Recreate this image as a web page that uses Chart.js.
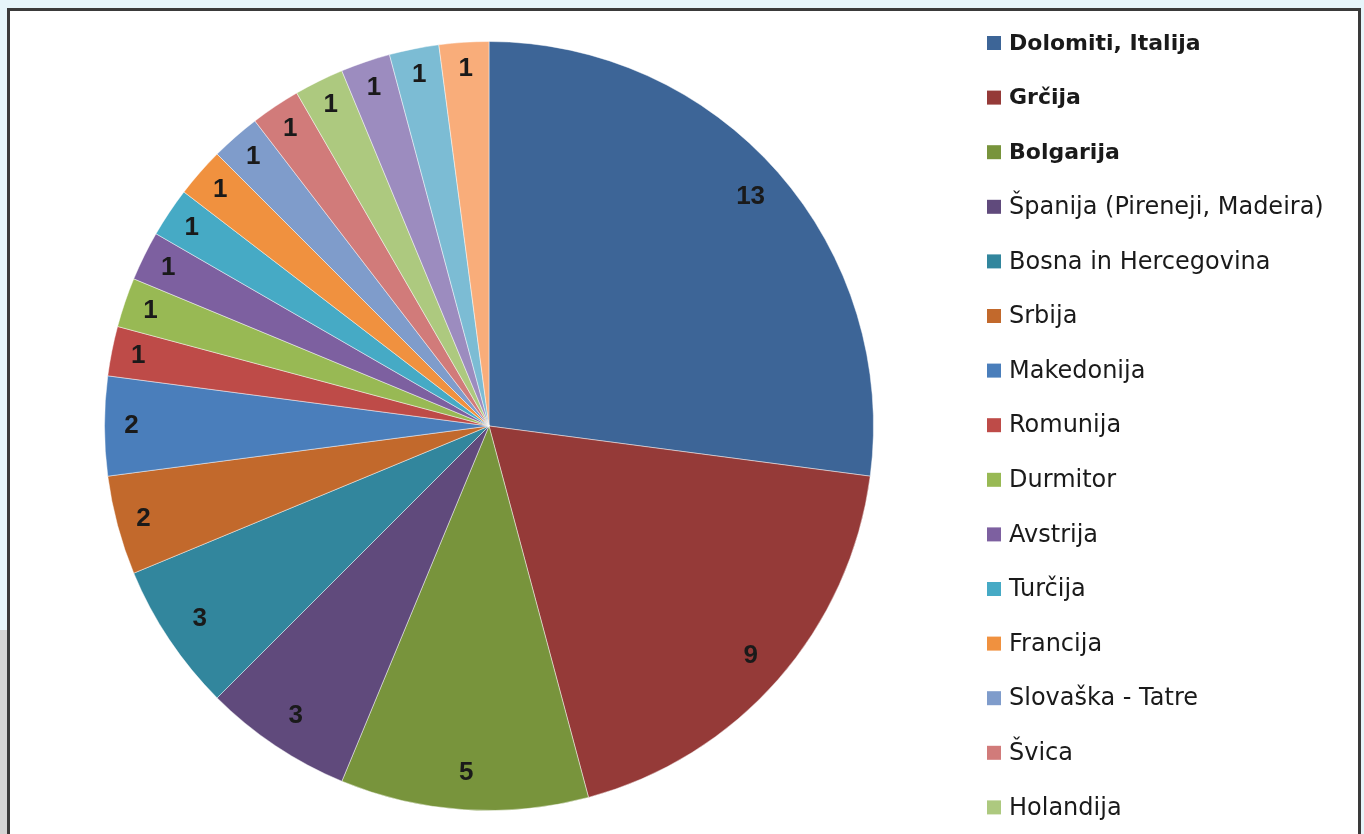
<!doctype html>
<html>
<head>
<meta charset="utf-8">
<script src="https://cdn.jsdelivr.net/npm/chart.js"></script>
<style>
html, body {
	margin: 0;
	padding: 0;
	overflow: hidden;
	background: #e6f5fa;
}
.frame {
	position: absolute;
	left: 7px;
	top: 8px;
	width: 1354px;
	height: 900px;
	background: #ffffff;
	border: 3px solid #3a3a3a;
	box-sizing: border-box;
}
.shade {
	position: absolute;
	left: 0;
	top: 630px;
	width: 7px;
	height: 210px;
	background: #d4d4d4;
}
#wrap {
	position: absolute;
	left: 10px;
	top: 11px;
	width: 1348px;
	height: 823px;
}
</style>
</head>
<body>
<div class="shade"></div>
<div class="frame"></div>
<div id="wrap"><canvas id="myChart"></canvas></div>
<script>
	// trips per destination (last three legend rows are cut off in the picture)
	var destinations = [
		'Dolomiti, Italija', 'Grčija', 'Bolgarija', 'Španija (Pireneji, Madeira)',
		'Bosna in Hercegovina', 'Srbija', 'Makedonija', 'Romunija', 'Durmitor',
		'Avstrija', 'Turčija', 'Francija', 'Slovaška - Tatre', 'Švica', 'Holandija',
		'Drugo 1', 'Drugo 2', 'Drugo 3'
	];
	var trips = [13, 9, 5, 3, 3, 2, 2, 1, 1, 1, 1, 1, 1, 1, 1, 1, 1, 1];
	var sliceColors = [
		'#3d6597', '#953a38', '#78943c', '#604a7c', '#32869d', '#c2692c',
		'#4a7ebb', '#be4b48', '#98b954', '#7d60a0', '#46aac5', '#f0913f',
		'#7f9ccb', '#d17b7a', '#adc97f', '#9c8cbf', '#7cbcd4', '#f9ad7a'
	];
	var boldRows = 3;

	var valueLabels = {
		id: 'valueLabels',
		afterDatasetsDraw: function(chart) {
			var c = chart.ctx;
			var arcs = chart.getDatasetMeta(0).data;
			c.save();
			c.font = 'bold 26px "Liberation Sans", Arial, sans-serif';
			c.fillStyle = '#1a1a1a';
			c.textAlign = 'center';
			c.textBaseline = 'middle';
			arcs.forEach(function(arc, i) {
				var p = arc.getProps(['x', 'y', 'startAngle', 'endAngle', 'outerRadius'], true);
				var mid = (p.startAngle + p.endAngle) / 2;
				// narrow slices get their label pushed a bit further out
				var d = p.outerRadius * (trips[i] >= 3 ? 0.905 : 0.93);
				c.fillText(String(trips[i]), p.x + Math.cos(mid) * d, p.y + Math.sin(mid) * d);
			});
			c.restore();
		}
	};

	var sideLegend = {
		id: 'sideLegend',
		afterDraw: function(chart) {
			var c = chart.ctx;
			c.save();
			c.textBaseline = 'middle';
			destinations.forEach(function(name, i) {
				var y = 32 + i * 54.6;
				c.fillStyle = sliceColors[i];
				c.fillRect(977, y - 7, 14, 14);
				c.fillStyle = '#1a1a1a';
				c.font = (i < boldRows ? 'bold 22px' : '24px') + ' "DejaVu Sans", sans-serif';
				c.fillText(name, 999, y + 1);
			});
			c.restore();
		}
	};

	new Chart(document.getElementById('myChart'), {
		type: 'pie',
		data: {
			labels: destinations,
			datasets: [{
				data: trips,
				backgroundColor: sliceColors,
				borderColor: 'rgba(255,255,255,0.45)',
				borderWidth: 1
			}]
		},
		options: {
			responsive: true,
			maintainAspectRatio: false,
			animation: false,
			layout: {
				padding: { left: 94, right: 484, top: 30, bottom: 23 }
			},
			plugins: {
				legend: { display: false },
				tooltip: { enabled: false }
			}
		},
		plugins: [valueLabels, sideLegend]
	});
</script>
</body>
</html>
